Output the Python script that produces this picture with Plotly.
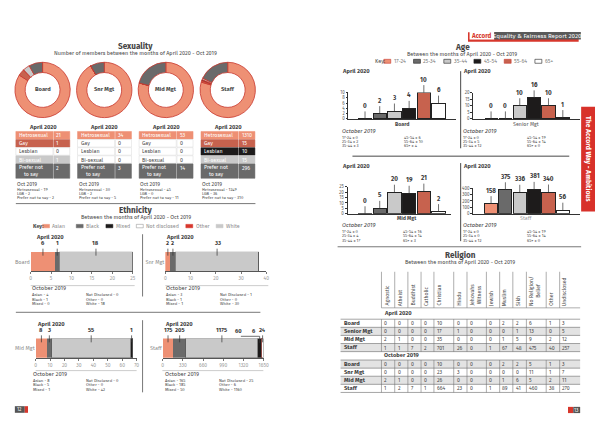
import plotly.graph_objects as go

# ======================= DATA =======================
sexuality_categories = ["Hetrosexual", "Gay", "Lesbian", "Bi-sexual", "Prefer not to say"]
sexuality_board = [21, 1, 0, 1, 2]
sexuality_snr = [34, 0, 0, 0, 3]
sexuality_mid = [53, 0, 0, 0, 14]
sexuality_staff = [1310, 15, 10, 15, 296]
sexuality_oct_labels = ["Hetrosexual", "LGB", "Prefer not to say"]
sexuality_oct_board = [19, 2, 2]
sexuality_oct_snr = [30, 2, 5]
sexuality_oct_mid = [45, 0, 11]
sexuality_oct_staff = [1249, 36, 310]

ethnicity_categories = ["Asian", "Black", "White", "Mixed", "Other", "Not disclosed"]
ethnicity_key_order = ["Asian", "Black", "Mixed", "Not disclosed", "Other", "White"]
ethnicity_board = [6, 1, 18, 0, 0, 0]
ethnicity_snr = [2, 2, 33, 0, 0, 0]
ethnicity_mid = [8, 3, 55, 1, 0, 0]
ethnicity_staff = [175, 205, 1175, 60, 6, 24]
ethnicity_oct_labels = ["Asian", "Black", "Mixed", "Not Disclosed", "Other", "White"]
ethnicity_oct_board = [4, 1, 0, 0, 0, 18]
ethnicity_oct_snr = [3, 1, 1, 1, 0, 30]
ethnicity_oct_mid = [8, 5, 1, 0, 0, 42]
ethnicity_oct_staff = [165, 185, 50, 25, 6, 1160]

age_categories = ["17-24", "25-34", "35-44", "45-54", "55-64", "65+"]
age_board = [0, 2, 3, 4, 10, 6]
age_snr = [0, 0, 10, 16, 10, 1]
age_mid = [0, 5, 20, 19, 21, 2]
age_staff = [158, 375, 336, 381, 340, 56]
age_oct_board = [0, 2, 3, 6, 10, 4]
age_oct_snr = [0, 5, 12, 19, 14, 0]
age_oct_mid = [0, 4, 17, 16, 14, 3]
age_oct_staff = [0, 0, 12, 19, 14, 0]

religion_columns = ["Agnostic", "Atheist", "Buddhist", "Catholic", "Christian", "Hindu",
                    "Jehovahs<br>Witness", "Jewish", "Muslim", "Sikh",
                    "No Religion/<br>Belief", "Other", "Undisclosed"]
religion_rows_apr = ["Board", "Senior Mgt", "Mid Mgt", "Staff"]
religion_rows_oct = ["Board", "Snr Mgt", "Mid Mgt", "Staff"]
religion_apr_board = [0, 0, 0, 0, 10, 0, 0, 0, 2, 2, 6, 1, 3]
religion_apr_senior = [0, 0, 0, 0, 17, 1, 0, 0, 0, 1, 13, 0, 5]
religion_apr_mid = [2, 1, 0, 0, 35, 0, 0, 0, 1, 5, 9, 2, 12]
religion_apr_staff = [1, 1, 7, 2, 701, 26, 0, 1, 67, 48, 475, 40, 257]
religion_oct_board = [0, 0, 0, 0, 10, 0, 0, 0, 2, 2, 5, 1, 3]
religion_oct_snr = [0, 0, 0, 0, 23, 3, 0, 0, 0, 0, 11, 1, 7]
religion_oct_mid = [2, 1, 0, 0, 26, 0, 0, 0, 1, 6, 5, 2, 11]
religion_oct_staff = [1, 2, 7, 1, 664, 23, 0, 1, 89, 41, 460, 38, 270]

# ======================= STYLE =======================
W, H = 600, 424
FONT = "Fira Sans, Roboto, Open Sans, Arial, sans-serif"
TXT = "#454545"
SALMON = "#EE9074"
TERRA = "#C7624E"
DARK = "#6A6A6A"
LIGHT = "#C9C9C9"
BLACK = "#1D1B1B"
RED = "#D7372C"
WHITE = "#FFFFFF"

sex_colors = [SALMON, TERRA, BLACK, LIGHT, DARK]
eth_colors = {"Asian": SALMON, "Black": DARK, "White": LIGHT, "Mixed": BLACK,
              "Other": RED, "Not disclosed": WHITE}
age_colors = [SALMON, DARK, LIGHT, BLACK, TERRA, WHITE]

fig = go.Figure()
ann, shapes = [], []
layout = {}


def T(x, y, s, size=5.5, color=TXT, bold=False, xa="left", ya="middle", angle=0, italic=False):
    if bold:
        s = f"<b>{s}</b>"
    if italic:
        s = f"<i>{s}</i>"
    ann.append(dict(xref="paper", yref="paper", x=x / W, y=1 - y / H, text=s, showarrow=False,
                    xanchor=xa, yanchor=ya, textangle=angle, borderpad=0,
                    font=dict(size=size, color=color, family=FONT)))


def R(x0, y0, x1, y1, fill, lc=None, lw=0):
    shapes.append(dict(type="rect", xref="paper", yref="paper", x0=x0 / W, x1=x1 / W,
                       y0=1 - y1 / H, y1=1 - y0 / H, fillcolor=fill,
                       line=dict(color=lc or fill, width=lw)))


def L(x0, y0, x1, y1, color="#555555", width=0.8):
    shapes.append(dict(type="line", xref="paper", yref="paper", x0=x0 / W, y0=1 - y0 / H,
                       x1=x1 / W, y1=1 - y1 / H, line=dict(color=color, width=width)))


def axes(i, xdom, ydom, xkw, ykw):
    xs = "" if i == 1 else str(i)
    layout["xaxis" + xs] = dict(domain=[xdom[0] / W, xdom[1] / W], anchor="y" + xs,
                                fixedrange=True, showgrid=False, zeroline=False, **xkw)
    layout["yaxis" + xs] = dict(domain=[1 - ydom[1] / H, 1 - ydom[0] / H], anchor="x" + xs,
                                fixedrange=True, showgrid=False, zeroline=False, **ykw)
    return "x" + xs, "y" + xs


# ======================= SEXUALITY =======================
T(136, 44.6, "Sexuality", 8.2, bold=True, xa="center")
T(136, 52.6, "Number of members between the months of April 2020 - Oct 2019", 5.5, xa="center")
sex_groups = [("Board", sexuality_board, sexuality_oct_board),
              ("Snr Mgt", sexuality_snr, sexuality_oct_snr),
              ("Mid Mgt", sexuality_mid, sexuality_oct_mid),
              ("Staff", sexuality_staff, sexuality_oct_staff)]
donut_cx = [42, 104.3, 166.5, 229]
row_tops = [131, 139.2, 147.4, 155.6, 163.8]
row_h = [7.6, 7.6, 7.6, 7.6, 14.6]
for i, (name, vals, octv) in enumerate(sex_groups):
    cx = donut_cx[i]
    fig.add_trace(go.Pie(values=vals, labels=sexuality_categories, sort=False, direction="clockwise",
                         rotation=0, hole=0.63, textinfo="none", showlegend=False,
                         marker=dict(colors=sex_colors, line=dict(color="#C8372D", width=0.8)),
                         domain=dict(x=[(cx - 28) / W, (cx + 28) / W], y=[1 - 117 / H, 1 - 61 / H])))
    T(cx, 89, name, 5.8, bold=True, xa="center")
    left = cx - 27
    T(cx, 127, "April 2020", 5.8, bold=True, xa="center")
    for r, (cat, v) in enumerate(zip(sexuality_categories, vals)):
        filled = v > 0
        fill = sex_colors[r] if filled else WHITE
        tc = WHITE if filled else TXT
        y0 = row_tops[r]
        y1 = y0 + row_h[r]
        lc = fill if filled else "#D8D8D8"
        R(left, y0, left + 37.5, y1, fill, lc, 0.5)
        R(left + 38.3, y0, left + 54.5, y1, fill, lc, 0.5)
        label = "Prefer not<br>to say" if r == 4 else cat
        T(left + 2, (y0 + y1) / 2, label, 5.3, tc)
        T(left + 40, (y0 + y1) / 2 - (3 if r == 4 else 0), str(v), 5.3, tc)
    T(left, 184, "Oct 2019", 5.3)
    for k, (lab, v) in enumerate(zip(sexuality_oct_labels, octv)):
        T(left, 189.5 + 4 * k, f"{lab} - {v}", 4.2)
L(15, 204, 257, 204)

# ======================= ETHNICITY =======================
T(136, 210.6, "Ethnicity", 8.2, bold=True, xa="center")
T(136, 218.3, "Between the months of April 2020 - Oct 2019", 5.5, xa="center")
T(31, 226.7, "Key:", 5.5, bold=True)
eth_key_x = [42, 76, 106, 136.7, 186.7, 217.3]
for kx, cat in zip(eth_key_x, ethnicity_key_order):
    R(kx, 225, kx + 7, 228.5, eth_colors[cat], "#888888" if cat == "Not disclosed" else eth_colors[cat], 0.5)
    T(kx + 9, 226.7, cat, 5.3, "#8A8A8A")

eth_groups = [("Board", ethnicity_board, ethnicity_oct_board),
              ("Snr Mgt", ethnicity_snr, ethnicity_oct_snr),
              ("Mid Mgt", ethnicity_mid, ethnicity_oct_mid),
              ("Staff", ethnicity_staff, ethnicity_oct_staff)]
eth_layout = [
    dict(xdom=(30, 133), ydom=(252.7, 272.7), xmax=25, dtick=5, apr=(34, 238.3), oct=(30.7, 85, 290), sep=(30, 135, 287)),
    dict(xdom=(166, 268), ydom=(252.7, 272.7), xmax=40, dtick=10, apr=(165.7, 238.3), oct=(166, 220, 290), sep=(166, 270, 287)),
    dict(xdom=(35, 137), ydom=(340.5, 360), xmax=70, dtick=10, apr=(35, 326.7), oct=(31, 85, 376.7), sep=(35, 137, 373)),
    dict(xdom=(163.3, 265.3), ydom=(340.5, 360), xmax=1650, dtick=330, apr=(165, 326.7), oct=(164.3, 219, 376.7), sep=(163, 265, 373)),
]
staff_label_shift = [0, 0, 0, -21, -8, 0]
for i, ((name, vals, octv), lo) in enumerate(zip(eth_groups, eth_layout)):
    xa_, ya_ = axes(i + 1, lo["xdom"], lo["ydom"],
                    dict(range=[0, lo["xmax"]], dtick=lo["dtick"], showline=True, linecolor="#555555",
                         linewidth=0.7, ticks="outside", ticklen=2, tickwidth=0.6, tickcolor="#777777",
                         tickfont=dict(size=5, color="#9A9A9A")),
                    dict(range=[-0.5, 0.5], tickvals=[0], ticktext=[name], ticks="",
                         showline=False, tickfont=dict(size=5.5, color="#8A8A8A")))
    cum = 0
    for j, (cat, v) in enumerate(zip(ethnicity_categories, vals)):
        lw = 0.6 if cat in ("White", "Not disclosed") else 0
        fig.add_trace(go.Bar(x=[v], y=[0], orientation="h", width=1, xaxis=xa_, yaxis=ya_,
                             marker=dict(color=eth_colors[cat], line=dict(color="#555555", width=lw)),
                             showlegend=False, hoverinfo="x+name", name=cat))
        if v > 0:
            mid = cum + v / 2
            shift = staff_label_shift[j] if name == "Staff" else 0
            if shift == 0:
                ann.append(dict(xref=xa_, yref=ya_, x=mid, y=0.3, text=f"<b>{v}</b>", showarrow=True,
                                arrowhead=0, arrowwidth=0.7, arrowcolor="#333333", ax=0, ay=-12,
                                font=dict(size=5.8, color="#3A3A3A", family=FONT)))
            else:
                ann.append(dict(xref=xa_, yref=ya_, x=mid, y=0.5, xshift=shift, yshift=7,
                                text=f"<b>{v}</b>", showarrow=False,
                                font=dict(size=5.8, color="#3A3A3A", family=FONT)))
        cum += v
    if name == "Staff":
        x0p, x1p = lo["xdom"]

        def topx(val):
            return x0p + val / lo["xmax"] * (x1p - x0p)
        mixed_mid = sum(vals[:3]) + vals[3] / 2
        L(topx(mixed_mid) + staff_label_shift[3] + 2, 338.3, topx(mixed_mid), 338.3, "#333333", 0.7)
        L(topx(mixed_mid), 338.3, topx(mixed_mid), 345, "#333333", 0.7)
    T(lo["apr"][0], lo["apr"][1], "April 2020", 5.8, bold=True)
    sx0, sx1, sy = lo["sep"]
    L(sx0, sy, sx1, sy, "#9A9A9A", 0.5)
    ox0, ox1, oy = lo["oct"]
    T(ox0, oy, "October 2019", 5.8)
    for k, (lab, v) in enumerate(zip(ethnicity_oct_labels, octv)):
        xx = ox0 if k < 3 else ox1
        T(xx, oy + 6.3 + 4.35 * (k % 3), f"{lab} - {v}", 4.2)
L(143, 235, 143, 298, "#555555", 0.8)
L(143, 322, 143, 395, "#555555", 0.8)
L(15, 314, 262, 314)

# page number left
R(14, 409, 24, 415.7, "#555555")
R(24, 409, 27.3, 415.7, RED)
T(18.8, 412.4, "12", 4.8, WHITE, xa="center")

# ======================= HEADER / SIDEBAR =======================
R(471.7, 30.5, 583.5, 40.2, RED)
R(473.3, 30.3, 498.3, 38, WHITE)
R(498.3, 30.3, 585.7, 38, "#5A5A5A")
T(485.8, 34.2, "Accord", 6.3, RED, bold=True, xa="center")
T(542, 34.2, "Equality &amp; Fairness Report 2020", 6.2, WHITE, xa="center")
R(586, 106, 600, 212, "#D8312A")
T(593, 159, "The Accord Way - Ambitious", 6.8, WHITE, bold=True, xa="center", angle=90)

# ======================= AGE =======================
T(466, 45.2, "Age", 8.2, bold=True, xa="center")
T(466, 53, "Between the months of April 2020 - Oct 2019", 5.5, xa="center")
T(376.7, 60, "Key:", 5.5)
age_key_x = [386.7, 416.7, 447.3, 477.7, 508.3, 539.3]
for kx, cat, col in zip(age_key_x, age_categories, age_colors):
    R(kx, 58, kx + 7, 62, col, "#C8372D" if col in (SALMON, TERRA) else "#222222", 0.6)
    T(kx + 9, 60, cat, 5.3, "#7A7A7A")

age_groups = [("Board", age_board, age_oct_board),
              ("Senior Mgt", age_snr, age_oct_snr),
              ("Mid Mgt", age_mid, age_oct_mid),
              ("Staff", age_staff, age_oct_staff)]
age_layout = [
    dict(xdom=(351, 460), ydom=(91.7, 118.3), ymax=10, dtick=2, c0=367.7, step=14.85,
         lab=(405, 123.5, TXT), apr=(343, 70), oct=(343, 406, 131)),
    dict(xdom=(477, 585), ydom=(91.7, 118.3), ymax=20, dtick=5, c0=495, step=14.5,
         lab=(530, 123.5, "#555555"), apr=(466, 70), oct=(466, 530, 131)),
    dict(xdom=(350, 455), ydom=(187, 214.3), ymax=25, dtick=5, c0=367.7, step=14.85,
         lab=(410, 219, TXT), apr=(343, 166), oct=(343, 405, 226.3)),
    dict(xdom=(477, 585), ydom=(188.4, 214.3), ymax=400, dtick=100, c0=495, step=14.5,
         lab=(530, 218.5, "#9A9A9A"), apr=(466, 166), oct=(466, 530, 226.3)),
]
for i, ((name, vals, octv), lo) in enumerate(zip(age_groups, age_layout)):
    rng = [(lo["xdom"][0] - lo["c0"]) / lo["step"], (lo["xdom"][1] - lo["c0"]) / lo["step"]]
    xa_, ya_ = axes(i + 5, lo["xdom"], lo["ydom"],
                    dict(type="category", categoryorder="array", categoryarray=age_categories,
                         range=rng, showticklabels=False, ticks="", showline=True,
                         linecolor="#333333", linewidth=0.8),
                    dict(range=[0, lo["ymax"]], dtick=lo["dtick"], showline=True, linecolor="#333333",
                         linewidth=0.8, ticks="outside", ticklen=2, tickwidth=0.6, tickcolor="#333333",
                         tickfont=dict(size=4.5, color="#555555")))
    fig.add_trace(go.Bar(x=age_categories, y=vals, width=0.91, xaxis=xa_, yaxis=ya_,
                         marker=dict(color=age_colors, line=dict(color="#222222", width=1)),
                         showlegend=False, hoverinfo="x+y"))
    for cat, v in zip(age_categories, vals):
        ann.append(dict(xref=xa_, yref=ya_, x=cat, y=v, text=f"<b>{v}</b>", showarrow=True,
                        arrowhead=0, arrowwidth=0.7, arrowcolor="#333333", ax=0, ay=-13,
                        font=dict(size=6.3, color="#3A3A3A", family=FONT)))
    lx, ly, lc = lo["lab"]
    T(lx, ly, name, 5.3, lc, bold=(lc == TXT), xa="center")
    T(lo["apr"][0], lo["apr"][1], "April 2020", 5.8, bold=True)
    ox0, ox1, oy = lo["oct"]
    T(ox0, oy, "October 2019", 5.8, italic=True)
    for k, (cat, v) in enumerate(zip(age_categories, octv)):
        xx = ox0 if k < 3 else ox1
        T(xx, oy + 5.7 + 4.5 * (k % 3), f"{cat} = {v}", 4.2)
L(464.3, 70, 464.3, 148, "#333333", 0.9)
L(464.3, 163, 464.3, 242, "#333333", 0.9)
L(355, 156, 574, 156, "#333333", 0.9)
L(340, 247.7, 586, 247.7, "#555555", 0.8)

# ======================= RELIGION =======================
T(464, 255.6, "Religion", 8.2, bold=True, xa="center")
T(464, 263.6, "Between the months of April 2020 - Oct 2019", 5.5, xa="center")
col_edges = [384.3, 397.7, 411, 424.3, 437.3, 457.3, 470.7, 490.3, 503.7, 517, 530.7, 550.7, 564.3, 585]
apr_bounds = [321, 329.2, 337.4, 345.6, 353.8]
oct_bounds = [362.3, 370.5, 378.7, 386.9, 395.1]
GRAY_ROW = "#E3E3E3"
for r in (1, 3):
    R(343, apr_bounds[r], 585, apr_bounds[r + 1], GRAY_ROW)
for r in (0, 2):
    R(343, oct_bounds[r], 585, oct_bounds[r + 1], GRAY_ROW)
for xe in col_edges[:-1]:
    for (ya, yb) in ((273, 309.5), (321, 353.8), (362.3, 395.1)):
        L(xe, ya, xe, yb, "#777777", 0.6)
L(384.3, 309.5, 585, 309.5, "#777777", 0.6)
for yb in apr_bounds + oct_bounds:
    L(343, yb, 585, yb, "#6A6A6A", 0.6)
for c, name in enumerate(religion_columns):
    T(col_edges[c] + 1.2, 308.5, name, 5.2, TXT, xa="left", ya="bottom", angle=-90)
T(385.5, 315.3, "April 2020", 5.8, bold=True)
T(385.5, 358.1, "October 2019", 5.8, bold=True)
apr_rows = [religion_apr_board, religion_apr_senior, religion_apr_mid, religion_apr_staff]
oct_rows = [religion_oct_board, religion_oct_snr, religion_oct_mid, religion_oct_staff]
for bounds, labels, rows in ((apr_bounds, religion_rows_apr, apr_rows),
                             (oct_bounds, religion_rows_oct, oct_rows)):
    for r, (lab, vals) in enumerate(zip(labels, rows)):
        yc = (bounds[r] + bounds[r + 1]) / 2
        T(345, yc, lab, 5.8, "#3A3A3A", bold=True)
        for c, v in enumerate(vals):
            T(col_edges[c] + 1.8, yc, str(v), 5.2)

# page number right
R(572.7, 409.7, 578, 416, RED)
R(578, 409.7, 585, 416, "#555555")
T(581.5, 412.9, "13", 4.8, WHITE, xa="center")

layout.update(width=W, height=H, margin=dict(l=0, r=0, t=0, b=0), paper_bgcolor="white",
              plot_bgcolor="rgba(0,0,0,0)", showlegend=False, barmode="stack",
              font=dict(family=FONT, color=TXT), annotations=ann, shapes=shapes)
fig.update_layout(**layout)
fig.write_html("out.html", config={"displayModeBar": False},
               post_script="document.body.style.margin='0';document.body.style.overflow='hidden';")
